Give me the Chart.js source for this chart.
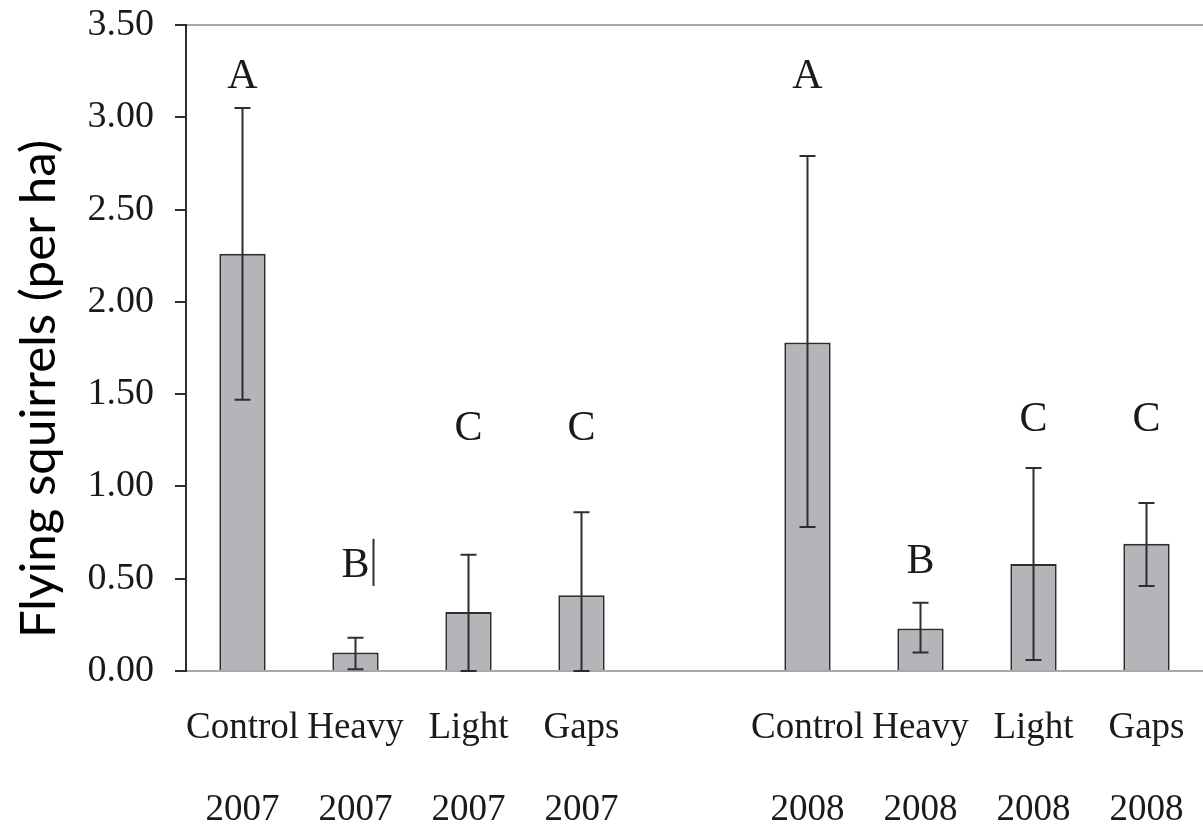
<!DOCTYPE html>
<html>
<head>
<meta charset="utf-8">
<script src="https://cdn.jsdelivr.net/npm/chart.js@4"></script>
<style>
    body { margin: 0; background: #fff; }
    #wrap { width: 1203px; height: 828px; position: relative; }
</style>
</head>
<body>
<div id="wrap"><canvas id="squirrelChart"></canvas></div>
<script>
// Flying squirrel density by treatment and year (middle slot left empty as a spacer)
const treatments = ['Control', 'Heavy', 'Light', 'Gaps', '', 'Control', 'Heavy', 'Light', 'Gaps'];
const years = ['2007', '2007', '2007', '2007', '', '2008', '2008', '2008', '2008'];
const means = [2.26, 0.10, 0.32, 0.41, null, 1.78, 0.23, 0.58, 0.69];
const errLow = [1.47, 0.01, 0.00, 0.00, null, 0.78, 0.10, 0.06, 0.46];
const errHigh = [3.05, 0.18, 0.63, 0.86, null, 2.79, 0.37, 1.10, 0.91];
const groupLetters = ['A', 'B', 'C', 'C', '', 'A', 'B', 'C', 'C'];
const letterLevel = [3.16, 0.51, 1.25, 1.25, null, 3.16, 0.53, 1.30, 1.30];
const yTicks = [0, 0.5, 1, 1.5, 2, 2.5, 3, 3.5];

const ink = '#2e2e2e';
const serif = '"Liberation Serif", "Times New Roman", serif';

// error bars + letters + y title, drawn on top of the bars
const extrasPlugin = {
    id: 'extras',
    afterDatasetsDraw(chart) {
        const ctx = chart.ctx;
        const x = chart.scales.x;
        const y = chart.scales.y;
        ctx.save();
        ctx.strokeStyle = ink;
        ctx.lineWidth = 2;
        means.forEach((m, i) => {
            if (m === null) return;
            const px = x.getPixelForValue(i);
            const top = y.getPixelForValue(errHigh[i]);
            const bot = y.getPixelForValue(errLow[i]);
            ctx.beginPath();
            ctx.moveTo(px, top); ctx.lineTo(px, bot);
            ctx.moveTo(px - 8, top); ctx.lineTo(px + 8, top);
            ctx.moveTo(px - 8, bot); ctx.lineTo(px + 8, bot);
            ctx.stroke();
        });

        // stray stroke beside the first B in the original figure
        const bx = x.getPixelForValue(1) + 18;
        ctx.beginPath();
        ctx.moveTo(bx, y.getPixelForValue(0.716));
        ctx.lineTo(bx, y.getPixelForValue(0.461));
        ctx.stroke();

        ctx.fillStyle = '#1a1a1a';
        ctx.font = '42px ' + serif;
        ctx.textAlign = 'center';
        ctx.textBaseline = 'alphabetic';
        groupLetters.forEach((t, i) => {
            if (!t) return;
            ctx.fillText(t, x.getPixelForValue(i), y.getPixelForValue(letterLevel[i]));
        });
        ctx.restore();
    },
    afterDraw(chart) {
        const ctx = chart.ctx;
        const area = chart.chartArea;
        const title = 'Flying squirrels (per ha)';
        ctx.save();
        ctx.font = '46px Lato';
        const size = 46 * 498 / ctx.measureText(title).width;
        ctx.font = size.toFixed(1) + 'px Lato';
        ctx.fillStyle = '#000';
        ctx.translate(area.left - 131, (area.top + area.bottom) / 2 + 41);
        ctx.rotate(-Math.PI / 2);
        ctx.textAlign = 'center';
        ctx.textBaseline = 'alphabetic';
        ctx.fillText(title, 0, 0);
        ctx.restore();
    }
};

new Chart(document.getElementById('squirrelChart'), {
    type: 'bar',
    data: {
        labels: treatments.map((t, i) => [t, years[i]]),
        datasets: [{
            data: means,
            backgroundColor: '#b4b5b9',
            borderColor: ink,
            borderWidth: 2,
            barPercentage: 0.41,
            categoryPercentage: 1.0
        }]
    },
    options: {
        responsive: true,
        maintainAspectRatio: false,
        animation: false,
        layout: { padding: { top: 25, right: 0, left: 0, bottom: 0 } },
        plugins: {
            legend: { display: false },
            tooltip: { enabled: false }
        },
        scales: {
            x: {
                grid: { display: false, drawTicks: false },
                border: { display: false },
                ticks: {
                    autoSkip: false,
                    maxRotation: 0,
                    padding: 16,
                    color: '#1a1a1a',
                    font: { family: serif, size: 37, lineHeight: 82 / 37 }
                },
                afterFit(scale) { scale.height = 157; }
            },
            y: {
                min: 0,
                max: 3.5,
                afterBuildTicks(scale) { scale.ticks = yTicks.map(v => ({ value: v })); },
                grid: {
                    color: c => (c.tick && (c.tick.value === 0 || c.tick.value === 3.5)) ? '#a8a8a8' : 'rgba(0,0,0,0)',
                    lineWidth: 2,
                    tickColor: ink,
                    tickLength: 11,
                    tickWidth: 2
                },
                border: { color: ink, width: 2 },
                ticks: {
                    padding: 21,
                    color: '#1a1a1a',
                    font: { family: serif, size: 38 },
                    callback: v => Number(v).toFixed(2)
                },
                afterFit(scale) {
                    scale.width = 186;
                    scale.paddingTop = 0;
                    scale.paddingBottom = 0;
                }
            }
        }
    },
    plugins: [extrasPlugin]
});
</script>
</body>
</html>
